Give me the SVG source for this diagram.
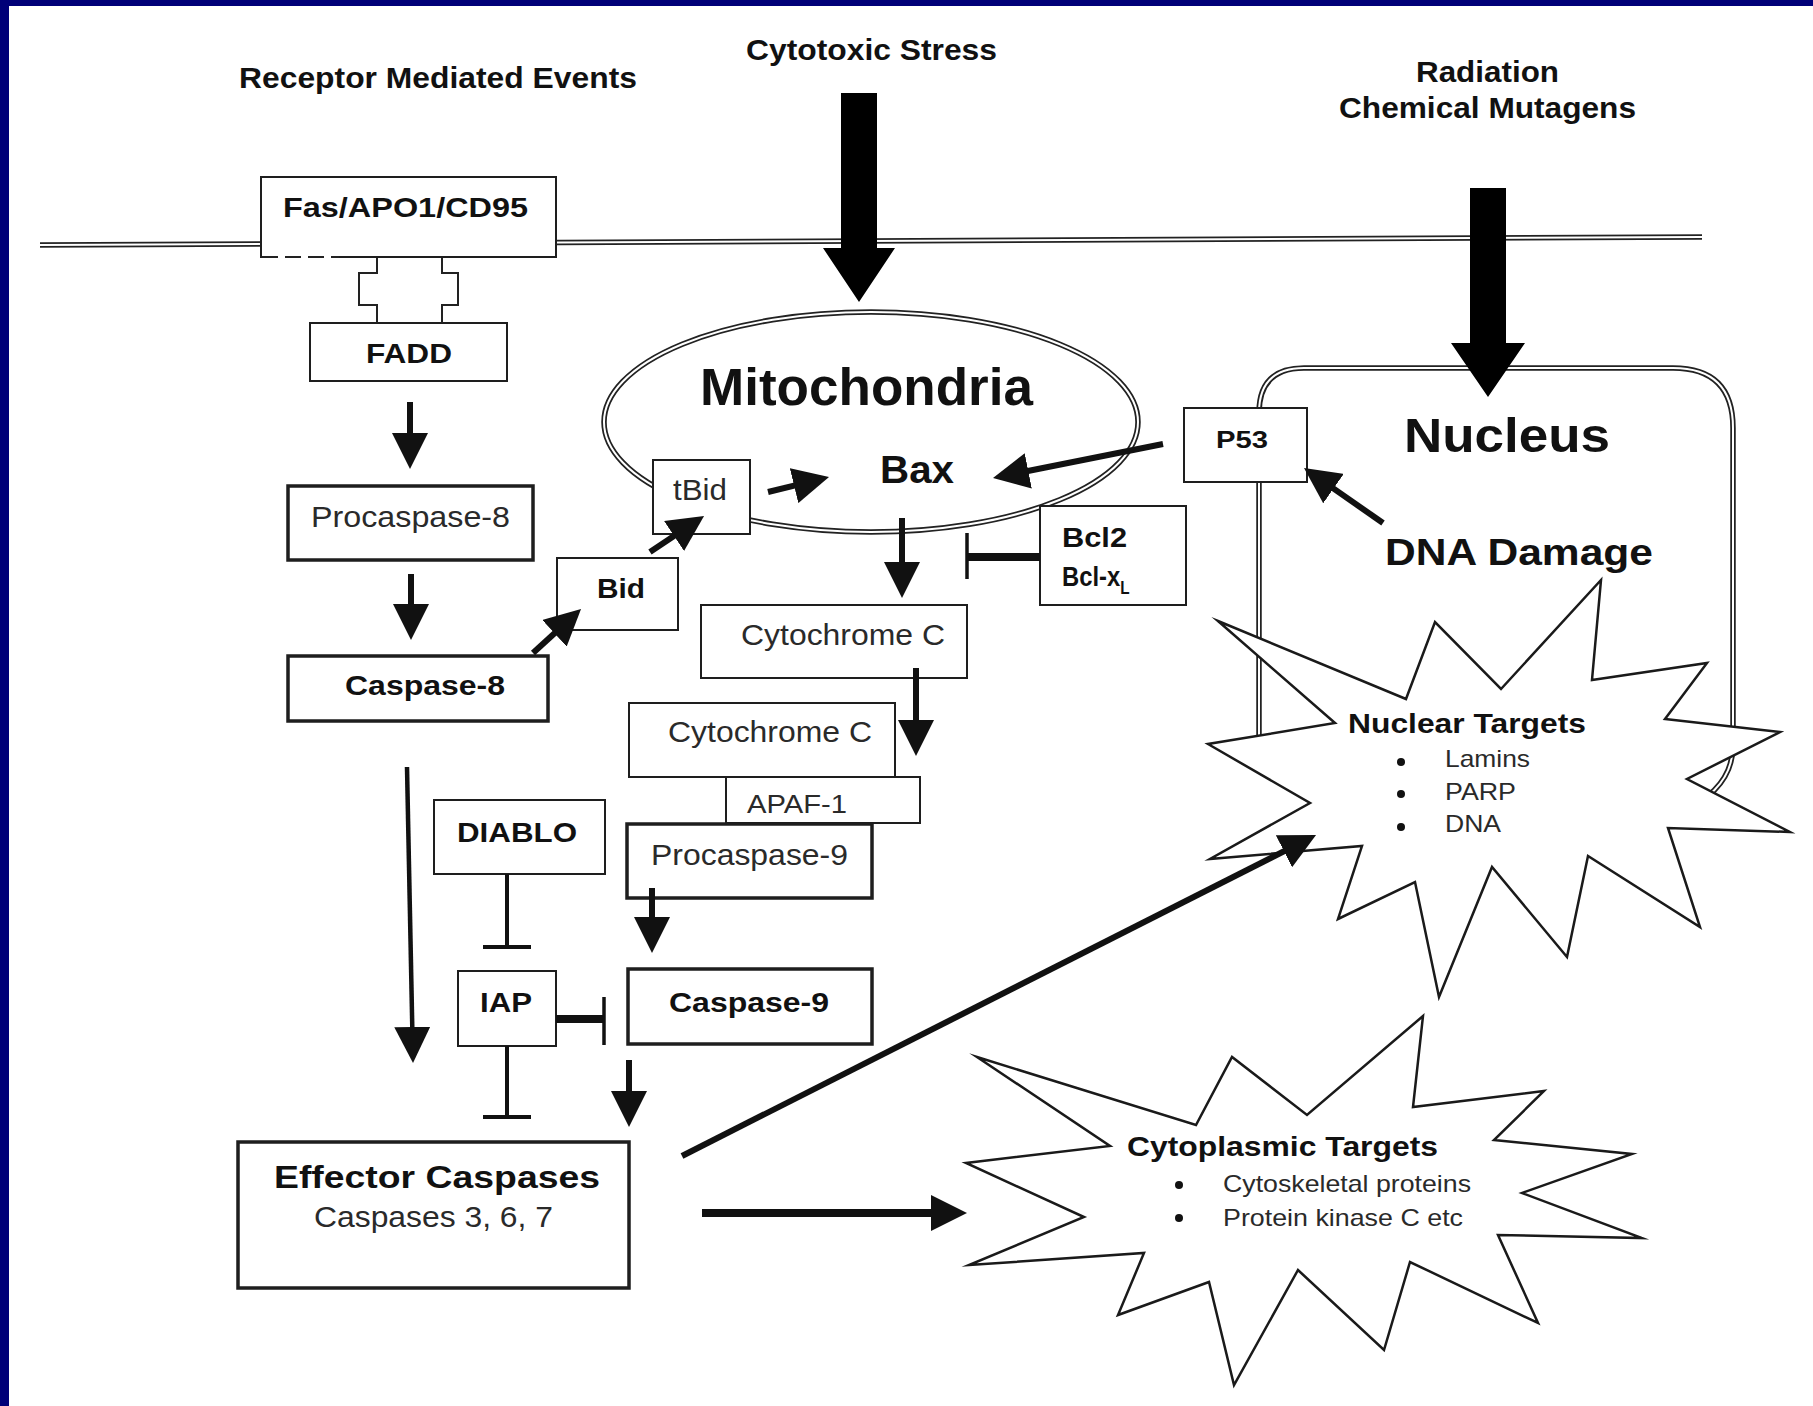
<svg xmlns="http://www.w3.org/2000/svg" width="1813" height="1406" viewBox="0 0 1813 1406">
<defs>
<style>
.box{fill:#fff;stroke:#1e1e1e;stroke-width:2}
.thick{stroke-width:3.5}
.b{font-family:"Liberation Sans Narrow","Liberation Sans",Arial,sans-serif;font-weight:bold;fill:#111}
.r{font-family:"Liberation Sans Narrow","Liberation Sans",Arial,sans-serif;font-weight:normal;fill:#2a2a2a}
.dblo{fill:none;stroke:#222;stroke-width:5.5}
.dbli{fill:none;stroke:#fff;stroke-width:2}
.arr{fill:none;stroke:#111;stroke-width:6;marker-end:url(#head)}
.thin{stroke-width:4.5}
.inh{fill:none;stroke:#111}
.star{fill:#fff;stroke:#1a1a1a;stroke-width:2.5;stroke-linejoin:miter;stroke-miterlimit:20}
.big{fill:#000}
</style>
<marker id="head" markerUnits="userSpaceOnUse" markerWidth="36" markerHeight="36" viewBox="0 0 36 36" refX="16" refY="18" orient="auto">
<path d="M0,0 L36,18 L0,36 z" fill="#111"/>
</marker>
</defs>

<rect x="0" y="0" width="1813" height="1406" fill="#000078"/>
<rect x="9" y="6" width="1804" height="1400" fill="#fff"/>

<g id="membrane">
<path class="dblo" d="M40,245 L1702,237"/>
<path class="dbli" d="M40,245 L1702,237"/>
</g>

<g id="nucleus">
<path class="dblo" d="M1259,745 L1259,413 Q1259,368 1304,368 L1673,368 Q1733,368 1733,428 L1733,745 A64,64 0 0 1 1669,809 L1600,809"/>
<path class="dbli" d="M1259,745 L1259,413 Q1259,368 1304,368 L1673,368 Q1733,368 1733,428 L1733,745 A64,64 0 0 1 1669,809 L1600,809"/>
<text class="b" x="1404" y="452" font-size="48" textLength="206" lengthAdjust="spacingAndGlyphs">Nucleus</text>
<text class="b" x="1385" y="565" font-size="36" textLength="268" lengthAdjust="spacingAndGlyphs">DNA Damage</text>
</g>

<g id="mitochondria">
<ellipse class="dblo" cx="871" cy="422" rx="267" ry="110"/>
<ellipse class="dbli" cx="871" cy="422" rx="267" ry="110"/>
<text class="b" x="700" y="405" font-size="51" textLength="333" lengthAdjust="spacingAndGlyphs">Mitochondria</text>
<text class="b" x="880" y="483" font-size="38" textLength="74" lengthAdjust="spacingAndGlyphs">Bax</text>
</g>

<g id="nuclear-targets">
<polygon class="star" points="1218,621 1406,699 1435,622 1501,689 1601,580 1592,680 1707,663 1665,719 1780,732 1687,779 1790,832 1668,828 1700,927 1588,856 1567,957 1492,867 1439,997 1415,882 1338,919 1362,846 1210,859 1310,803 1208,744 1335,723"/>
<text class="b" x="1348" y="733" font-size="28" textLength="238" lengthAdjust="spacingAndGlyphs">Nuclear Targets</text>
<circle cx="1401" cy="762" r="4" fill="#111"/>
<circle cx="1401" cy="794" r="4" fill="#111"/>
<circle cx="1401" cy="827" r="4" fill="#111"/>
<text class="r" x="1445" y="767" font-size="24" textLength="85" lengthAdjust="spacingAndGlyphs">Lamins</text>
<text class="r" x="1445" y="800" font-size="24" textLength="71" lengthAdjust="spacingAndGlyphs">PARP</text>
<text class="r" x="1445" y="832" font-size="24" textLength="56" lengthAdjust="spacingAndGlyphs">DNA</text>
</g>

<g id="cytoplasmic-targets">
<polygon class="star" points="977,1057 1196,1125 1232,1057 1307,1115 1423,1016 1413,1107 1544,1091 1494,1140 1632,1154 1522,1193 1642,1238 1498,1235 1538,1323 1410,1262 1384,1350 1298,1270 1234,1385 1209,1282 1118,1315 1144,1253 969,1265 1084,1217 966,1163 1110,1146"/>
<text class="b" x="1127" y="1156" font-size="28" textLength="311" lengthAdjust="spacingAndGlyphs">Cytoplasmic Targets</text>
<circle cx="1179" cy="1185" r="4" fill="#111"/>
<circle cx="1179" cy="1218" r="4" fill="#111"/>
<text class="r" x="1223" y="1192" font-size="24" textLength="248" lengthAdjust="spacingAndGlyphs">Cytoskeletal proteins</text>
<text class="r" x="1223" y="1226" font-size="24" textLength="240" lengthAdjust="spacingAndGlyphs">Protein kinase C etc</text>
</g>

<g id="label-receptor">
<text class="b" x="239" y="88" font-size="30" textLength="398" lengthAdjust="spacingAndGlyphs">Receptor Mediated Events</text>
</g>
<g id="label-cytotoxic">
<text class="b" x="746" y="60" font-size="30" textLength="251" lengthAdjust="spacingAndGlyphs">Cytotoxic Stress</text>
</g>
<g id="label-radiation">
<text class="b" x="1416" y="82" font-size="29" textLength="143" lengthAdjust="spacingAndGlyphs">Radiation</text>
<text class="b" x="1339" y="118" font-size="29" textLength="297" lengthAdjust="spacingAndGlyphs">Chemical Mutagens</text>
</g>

<g id="fas">
<rect class="box" x="261" y="177" width="295" height="80"/>
<path d="M262,257 L339,257" stroke="#fff" stroke-width="3"/>
<path d="M262,257 L339,257" stroke="#222" stroke-width="2" stroke-dasharray="16 7"/>
<text class="b" x="283" y="217" font-size="28" textLength="245" lengthAdjust="spacingAndGlyphs">Fas/APO1/CD95</text>
</g>
<g id="fadd">
<rect class="box" x="310" y="323" width="197" height="58"/>
<text class="b" x="366" y="363" font-size="27" textLength="86" lengthAdjust="spacingAndGlyphs">FADD</text>
</g>
<g id="procaspase-8">
<rect class="box thick" x="288" y="486" width="245" height="74"/>
<text class="r" x="311" y="527" font-size="29" textLength="199" lengthAdjust="spacingAndGlyphs">Procaspase-8</text>
</g>
<g id="caspase-8">
<rect class="box thick" x="288" y="656" width="260" height="65"/>
<text class="b" x="345" y="695" font-size="28" textLength="160" lengthAdjust="spacingAndGlyphs">Caspase-8</text>
</g>
<g id="bid">
<rect class="box" x="557" y="558" width="121" height="72"/>
<text class="b" x="597" y="598" font-size="28" textLength="48" lengthAdjust="spacingAndGlyphs">Bid</text>
</g>
<g id="tbid">
<rect class="box" x="653" y="460" width="97" height="74"/>
<text class="r" x="673" y="500" font-size="29" textLength="54" lengthAdjust="spacingAndGlyphs">tBid</text>
</g>
<g id="p53">
<rect class="box" x="1184" y="408" width="123" height="74"/>
<text class="b" x="1216" y="448" font-size="23" textLength="52" lengthAdjust="spacingAndGlyphs">P53</text>
</g>
<g id="bcl2">
<rect class="box" x="1040" y="506" width="146" height="99"/>
<text class="b" x="1062" y="547" font-size="28" textLength="65" lengthAdjust="spacingAndGlyphs">Bcl2</text>
<text class="b" transform="translate(1062,586) scale(0.85,1)" x="0" y="0" font-size="28">Bcl-x<tspan font-size="18" dy="8">L</tspan></text>
</g>
<g id="cytochrome-c-1">
<rect class="box" x="701" y="605" width="266" height="73"/>
<text class="r" x="741" y="645" font-size="29" textLength="204" lengthAdjust="spacingAndGlyphs">Cytochrome C</text>
</g>
<g id="apaf-1">
<rect class="box" x="726" y="777" width="194" height="46"/>
<text class="r" x="747" y="813" font-size="25" textLength="100" lengthAdjust="spacingAndGlyphs">APAF-1</text>
</g>
<g id="cytochrome-c-2">
<rect class="box" x="629" y="703" width="266" height="74"/>
<text class="r" x="668" y="742" font-size="29" textLength="204" lengthAdjust="spacingAndGlyphs">Cytochrome C</text>
</g>
<g id="procaspase-9">
<rect class="box thick" x="627" y="824" width="245" height="74"/>
<text class="r" x="651" y="865" font-size="29" textLength="197" lengthAdjust="spacingAndGlyphs">Procaspase-9</text>
</g>
<g id="diablo">
<rect class="box" x="434" y="800" width="171" height="74"/>
<text class="b" x="457" y="842" font-size="27" textLength="120" lengthAdjust="spacingAndGlyphs">DIABLO</text>
</g>
<g id="iap">
<rect class="box" x="458" y="971" width="98" height="75"/>
<text class="b" x="480" y="1012" font-size="27" textLength="52" lengthAdjust="spacingAndGlyphs">IAP</text>
</g>
<g id="caspase-9">
<rect class="box thick" x="628" y="969" width="244" height="75"/>
<text class="b" x="669" y="1012" font-size="28" textLength="160" lengthAdjust="spacingAndGlyphs">Caspase-9</text>
</g>
<g id="effector-caspases">
<rect class="box thick" x="238" y="1142" width="391" height="146"/>
<text class="b" x="274" y="1188" font-size="32" textLength="326" lengthAdjust="spacingAndGlyphs">Effector Caspases</text>
<text class="r" x="314" y="1227" font-size="30" textLength="239" lengthAdjust="spacingAndGlyphs">Caspases 3, 6, 7</text>
</g>

<g id="connectors">
<path d="M377,258 L377,273 L359,273 L359,305 L377,305 L377,323 M442,258 L442,273 L458,273 L458,305 L442,305 L442,323" fill="none" stroke="#222" stroke-width="2"/>
<path class="arr" d="M410,402 L410,449"/>
<path class="arr" d="M411,574 L411,620"/>
<path class="arr" d="M533,653 L566.3,622.5"/>
<path class="arr" d="M650,552 L687.4,527.1"/>
<path class="arr" d="M768,492 L809.6,481.8"/>
<path class="arr" d="M1163,444 L1012.6,474.1"/>
<path class="arr" d="M1383,523 L1320.4,479.4"/>
<path class="arr" d="M902,518 L902,578"/>
<path class="arr" d="M916,668 L916,736"/>
<path class="arr" d="M652,888 L652,933"/>
<path class="arr" d="M629,1060 L629,1107"/>
<path class="arr thin" d="M407,767 L412.6,1043"/>
<path class="arr" d="M682,1156 L1298.2,844"/>
<path class="arr" style="stroke-width:8" d="M702,1213 L947,1213"/>
<path class="inh" stroke-width="8" d="M1040,557 L967,557"/>
<path class="inh" stroke-width="3.5" d="M967,533 L967,579"/>
<path class="inh" stroke-width="4" d="M507,874 L507,947 M483,947 L531,947"/>
<path class="inh" stroke-width="8" d="M556,1019 L604,1019"/>
<path class="inh" stroke-width="3.5" d="M604,997 L604,1045"/>
<path class="inh" stroke-width="4" d="M507,1046 L507,1117 M483,1117 L531,1117"/>
<polygon class="big" points="841,93 877,93 877,248 895,248 859,302 823,248 841,248"/>
<polygon class="big" points="1470,188 1506,188 1506,343 1525,343 1488,397 1451,343 1470,343"/>
</g>
</svg>
